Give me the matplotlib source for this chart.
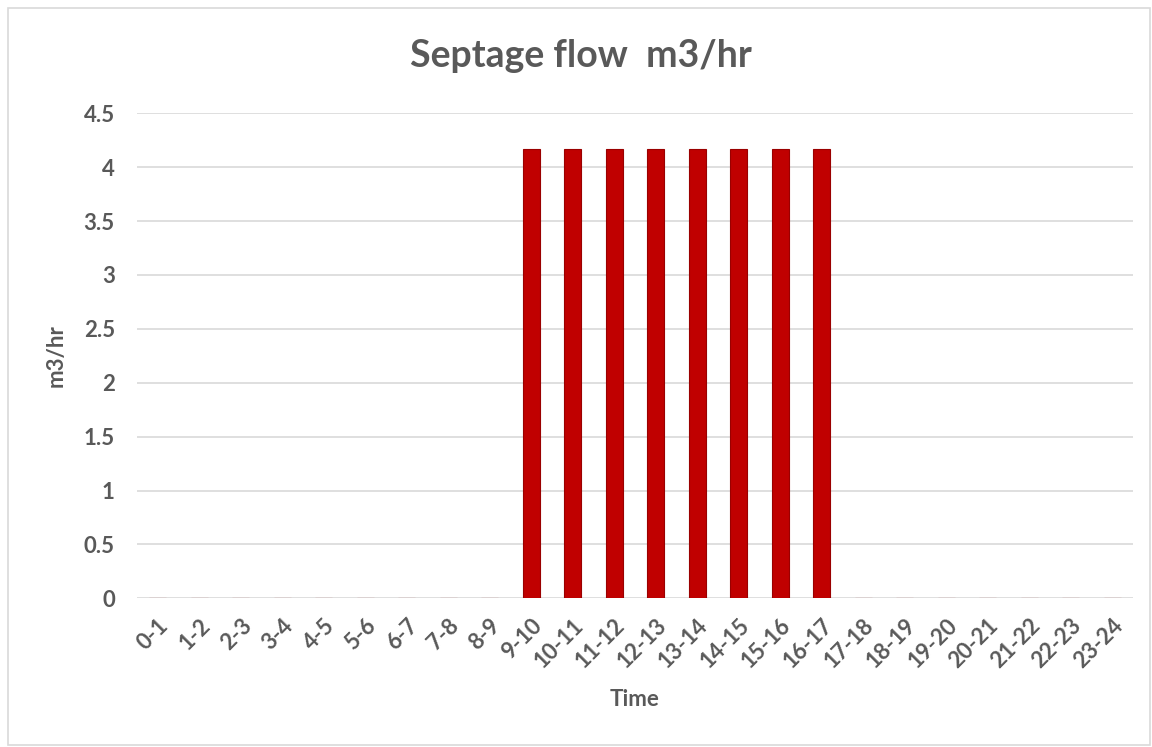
import matplotlib.pyplot as plt
from matplotlib.patches import Rectangle

plt.rcParams['font.family'] = ['Lato', 'DejaVu Sans']

# data
hours = [f'{h}-{h + 1}' for h in range(24)]
flow = [0, 0, 0, 0, 0, 0, 0, 0, 0,
        4.167, 4.167, 4.167, 4.167, 4.167, 4.167, 4.167, 4.167,
        0, 0, 0, 0, 0, 0, 0]
y_ticks = [0, 0.5, 1, 1.5, 2, 2.5, 3, 3.5, 4, 4.5]
y_labels = ['0', '0.5', '1', '1.5', '2', '2.5', '3', '3.5', '4', '4.5']

grey = '#595959'

fig = plt.figure(figsize=(11.52, 7.47), dpi=100)
fig.patches.append(Rectangle((0.007, 0.003), 0.991, 0.986, transform=fig.transFigure,
                             fill=False, edgecolor='#d9d9d9', linewidth=1.2))
ax = fig.add_axes([0.1189, 0.199, 0.8646, 0.6493])

x = range(len(hours))
ax.bar(x, flow, width=0.4, color='#C00000', edgecolor='#9a0000', linewidth=0.8, zorder=3)

ax.set_xlim(-0.5, len(hours) - 0.5)
ax.set_ylim(0, 4.5)
ax.set_yticks(y_ticks)
ax.set_yticklabels(y_labels)
ax.set_xticks(list(x))
ax.set_xticklabels(hours, rotation=45, ha='right', rotation_mode='anchor')

ax.grid(axis='y', color='#d9d9d9', linewidth=1.2, zorder=0)
for s in ax.spines.values():
    s.set_visible(False)
ax.tick_params(axis='both', length=0, colors=grey, labelsize=16)
ax.tick_params(axis='y', pad=16)
ax.tick_params(axis='x', pad=12)
for lab in ax.get_xticklabels() + ax.get_yticklabels():
    lab.set_fontweight('bold')

ax.set_xlabel('Time', color=grey, fontsize=16, fontweight='bold', labelpad=12)
ax.set_ylabel('m3/hr', color=grey, fontsize=16, fontweight='bold', labelpad=12)
fig.text(0.504, 0.925, 'Septage flow  m3/hr', ha='center', va='center',
         fontsize=27, fontweight='bold', color=grey)

fig.savefig('out.png', dpi=100)
